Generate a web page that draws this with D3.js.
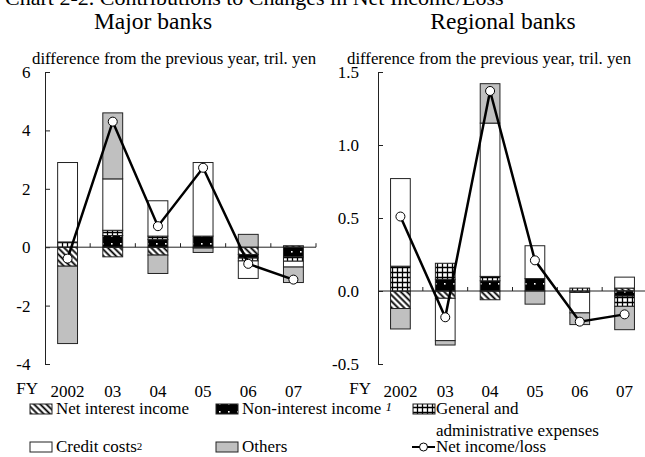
<!DOCTYPE html>
<html>
<head>
<meta charset="utf-8">
<script src="https://cdn.jsdelivr.net/npm/d3@7"></script>
<style>
  body { margin: 0; background: #fff; }
  svg, svg text { font-family: "Liberation Serif", "Times New Roman", Times, serif !important; fill: #000; }
</style>
</head>
<body>
<div id="chart"></div>
<script>
// categories
const years = ["2002", "03", "04", "05", "06", "07"];

// Major banks, tril. yen
const majorNetInterest = [-0.65, -0.33, -0.27, -0.03, -0.25, 0.05];
const majorNonInterest = [0.0, 0.4, 0.26, 0.38, -0.12, -0.33];
const majorGenAdmin = [0.18, 0.18, 0.12, 0.0, -0.1, -0.15];
const majorCredit = [2.72, 1.76, 1.21, 2.52, -0.6, -0.2];
const majorOthers = [-2.65, 2.26, -0.63, -0.15, 0.44, -0.53];
const majorNetIncome = [-0.39, 4.3, 0.72, 2.72, -0.57, -1.11];

// Regional banks, tril. yen
const regNetInterest = [-0.12, -0.05, -0.06, 0.0, -0.01, 0.02];
const regNonInterest = [0.0, 0.08, 0.07, 0.085, 0.0, -0.035];
const regGenAdmin = [0.17, 0.11, 0.03, 0.0, 0.02, -0.07];
const regCredit = [0.6, -0.29, 1.05, 0.225, -0.14, 0.075];
const regOthers = [-0.14, -0.03, 0.27, -0.09, -0.08, -0.16];
const regNetIncome = [0.51, -0.18, 1.37, 0.21, -0.21, -0.16];

// tick labels
const majorTicks = [-4, -2, 0, 2, 4, 6];
const regTicks = [-0.5, 0, 0.5, 1.0, 1.5];

const keys = ["nii", "nonint", "ga", "credit", "others"];
const SERIF = '"Liberation Serif", "Times New Roman", Times, serif';

// plain hyphen for negatives, like the original
const loc = d3.formatLocale({ decimal: ".", thousands: ",", grouping: [3], currency: ["", ""], minus: "-" });

const svg = d3.select("#chart").append("svg")
    .attr("width", 645)
    .attr("height", 457)
    .style("font-family", SERIF);

// fill patterns
const defs = svg.append("defs");

const hatch = defs.append("pattern")
    .attr("id", "hatch")
    .attr("patternUnits", "userSpaceOnUse")
    .attr("width", 4.4).attr("height", 4.4)
    .attr("patternTransform", "rotate(-45)");
hatch.append("rect").attr("width", 4.4).attr("height", 4.4).attr("fill", "#fff");
hatch.append("line").attr("x1", 2.2).attr("y1", 0).attr("x2", 2.2).attr("y2", 4.4)
    .attr("stroke", "#000").attr("stroke-width", 1.8);

const dots = defs.append("pattern")
    .attr("id", "dots")
    .attr("patternUnits", "userSpaceOnUse")
    .attr("width", 9).attr("height", 8);
dots.append("rect").attr("width", 9).attr("height", 8).attr("fill", "#000");
dots.append("rect").attr("x", 3).attr("y", 3).attr("width", 1.6).attr("height", 1.6).attr("fill", "#fff");

const grid = defs.append("pattern")
    .attr("id", "grid")
    .attr("patternUnits", "userSpaceOnUse")
    .attr("width", 5).attr("height", 5);
grid.append("rect").attr("width", 5).attr("height", 5).attr("fill", "#fff");
grid.append("path").attr("d", "M0,2.5H5M2.5,0V5")
    .attr("stroke", "#000").attr("stroke-width", 1.3);

const fills = {
    nii: "url(#hatch)",
    nonint: "url(#dots)",
    ga: "url(#grid)",
    credit: "#fff",
    others: "#c0c0c0"
};

// title (cut off at the top edge, as in the original)
svg.append("text")
    .attr("x", 5).attr("y", 5)
    .attr("font-size", 22)
    .style("font-family", SERIF)
    .text("Chart 2-2. Contributions to Changes in Net Income/Loss");

function drawPanel(cfg) {
    const rows = years.map((yr, i) => ({
        year: yr,
        nii: cfg.nii[i],
        nonint: cfg.nonint[i],
        ga: cfg.ga[i],
        credit: cfg.credit[i],
        others: cfg.others[i]
    }));

    const x = d3.scaleBand()
        .domain(years)
        .range([cfg.x0, cfg.x1])
        .paddingInner(0.56)
        .paddingOuter(0.28);
    const y = d3.scaleLinear()
        .domain(cfg.domain)
        .range([364, 72]);
    const step = x.step();
    const bw = x.bandwidth();

    const g = svg.append("g");

    // subtitle and unit label
    g.append("text")
        .attr("x", cfg.titleX).attr("y", 29)
        .attr("text-anchor", "middle")
        .attr("font-size", 23.5)
        .style("font-family", SERIF)
        .text(cfg.title);
    g.append("text")
        .attr("x", cfg.unitX).attr("y", 64)
        .attr("font-size", 16.8)
        .style("font-family", SERIF)
        .text("difference from the previous year, tril. yen");

    // stacked bars
    const stack = d3.stack().keys(keys).offset(d3.stackOffsetDiverging);
    const series = stack(rows);

    g.selectAll("g.series")
        .data(series)
        .join("g")
        .attr("class", "series")
        .attr("fill", d => fills[d.key])
        .selectAll("rect")
        .data(d => d.filter(p => p[1] !== p[0]))
        .join("rect")
        .attr("x", d => x(d.data.year))
        .attr("y", d => y(Math.max(d[0], d[1])))
        .attr("width", bw)
        .attr("height", d => Math.abs(y(d[0]) - y(d[1])))
        .attr("stroke", "#222")
        .attr("stroke-width", 1);

    // y axis
    const yAxis = d3.axisLeft(y)
        .tickValues(cfg.ticks)
        .tickFormat(cfg.fmt)
        .tickSizeInner(-5)
        .tickSizeOuter(0)
        .tickPadding(cfg.pad);
    const ya = g.append("g")
        .attr("transform", `translate(${cfg.x0},0)`)
        .call(yAxis)
        .attr("font-family", SERIF);
    ya.select(".domain").attr("stroke", "#222");
    ya.selectAll(".tick line").attr("stroke", "#222");
    ya.selectAll("text")
        .attr("font-size", 17)
        .style("font-family", SERIF);

    // zero line with category ticks
    const y0 = y(0);
    g.append("line")
        .attr("x1", cfg.x0).attr("x2", cfg.x1)
        .attr("y1", y0).attr("y2", y0)
        .attr("stroke", "#222").attr("stroke-width", 1);
    g.selectAll("line.ctick")
        .data(years)
        .join("line")
        .attr("class", "ctick")
        .attr("x1", d => x(d) - (step - bw) / 2 + step)
        .attr("x2", d => x(d) - (step - bw) / 2 + step)
        .attr("y1", y0).attr("y2", y0 - 4)
        .attr("stroke", "#222");

    // category labels
    g.selectAll("text.cat")
        .data(years)
        .join("text")
        .attr("class", "cat")
        .attr("x", d => x(d) + bw / 2)
        .attr("y", 397)
        .attr("text-anchor", "middle")
        .attr("font-size", 17)
        .style("font-family", SERIF)
        .text(d => d);
    g.append("text")
        .attr("x", cfg.fyX).attr("y", 394)
        .attr("text-anchor", "end")
        .attr("font-size", 17)
        .style("font-family", SERIF)
        .text("FY");

    // net income line
    const pts = years.map((yr, i) => ({ year: yr, value: cfg.net[i] }));
    const line = d3.line()
        .x(d => x(d.year) + bw / 2)
        .y(d => y(d.value));
    g.append("path")
        .datum(pts)
        .attr("d", line)
        .attr("fill", "none")
        .attr("stroke", "#000")
        .attr("stroke-width", 2.5);
    g.selectAll("circle")
        .data(pts)
        .join("circle")
        .attr("cx", d => x(d.year) + bw / 2)
        .attr("cy", d => y(d.value))
        .attr("r", 4.5)
        .attr("fill", "#fff")
        .attr("stroke", "#000")
        .attr("stroke-width", 1);
}

drawPanel({
    title: "Major banks", titleX: 153, unitX: 32,
    x0: 45, x1: 316, domain: [-4, 6], ticks: majorTicks,
    fmt: loc.format("d"), pad: 14.5, fyX: 38,
    nii: majorNetInterest, nonint: majorNonInterest, ga: majorGenAdmin,
    credit: majorCredit, others: majorOthers, net: majorNetIncome
});

drawPanel({
    title: "Regional banks", titleX: 503, unitX: 347,
    x0: 378, x1: 647, domain: [-0.5, 1.5], ticks: regTicks,
    fmt: loc.format(".1f"), pad: 19, fyX: 371,
    nii: regNetInterest, nonint: regNonInterest, ga: regGenAdmin,
    credit: regCredit, others: regOthers, net: regNetIncome
});

// legend
const legend = svg.append("g").attr("font-size", 17);

function swatch(xp, yp, fill) {
    legend.append("rect")
        .attr("x", xp).attr("y", yp)
        .attr("width", 22).attr("height", 10)
        .attr("fill", fill)
        .attr("stroke", "#222");
}

function label(xp, yp, txt) {
    return legend.append("text")
        .attr("x", xp).attr("y", yp)
        .style("font-family", SERIF)
        .text(txt);
}

swatch(30, 404, fills.nii);
label(56, 414, "Net interest income");

swatch(216, 404, fills.nonint);
label(242, 414, "Non-interest income ")
    .append("tspan").attr("font-style", "italic").attr("font-size", 13).attr("dy", -3).text("1");

swatch(413, 404, fills.ga);
label(436, 414, "General and");
label(436, 436, "administrative expenses");

swatch(30, 442, fills.credit);
label(56, 452, "Credit costs")
    .append("tspan").attr("font-size", 11).attr("dy", -2).text("2");

swatch(216, 442, fills.others);
label(242, 452, "Others");

legend.append("line")
    .attr("x1", 412).attr("x2", 435)
    .attr("y1", 447).attr("y2", 447)
    .attr("stroke", "#000").attr("stroke-width", 2);
legend.append("circle")
    .attr("cx", 423.5).attr("cy", 447).attr("r", 4)
    .attr("fill", "#fff").attr("stroke", "#000");
label(436, 452, "Net income/loss");
</script>
</body>
</html>
